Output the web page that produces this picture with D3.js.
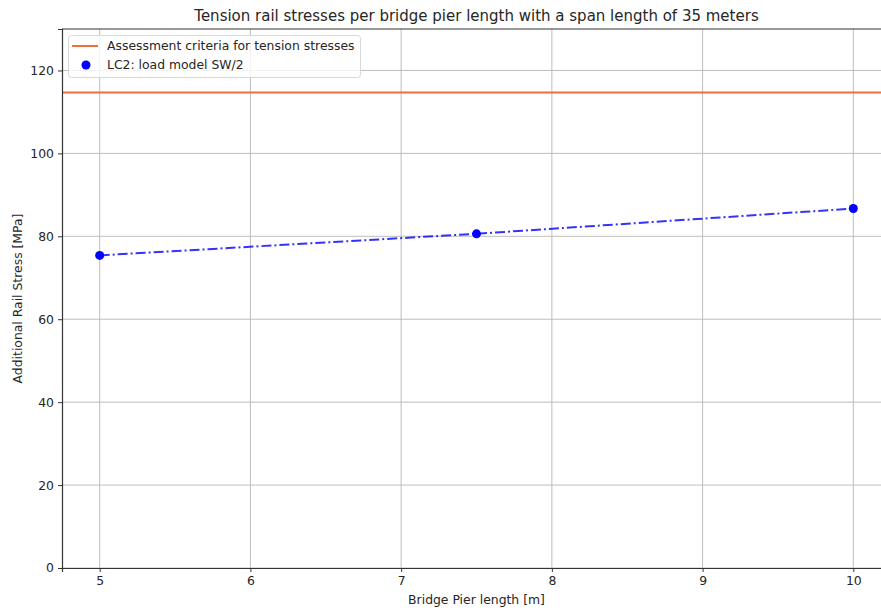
<!DOCTYPE html>
<html><head><meta charset="utf-8">
<script src="https://cdn.jsdelivr.net/npm/d3@7"></script>
<style>body{margin:0;background:#fff}svg{display:block;font-family:"DejaVu Sans",sans-serif}</style>
</head><body><svg id="c" width="881" height="610"></svg>
<script>
const pierLengths = [5, 7.5, 10];
const stressLC2 = [75.4, 80.6, 86.7];
const criteria = 114.7;
const xTicks = [5, 6, 7, 8, 9, 10];
const yTicks = [0, 20, 40, 60, 80, 100, 120];
const title = "Tension rail stresses per bridge pier length with a span length of 35 meters";
const xLabel = "Bridge Pier length [m]";
const yLabel = "Additional Rail Stress [MPa]";
const legendLabels = ["Assessment criteria for tension stresses", "LC2: load model SW/2"];

const svg = d3.select("#c");
const L = 62, T = 29, B = 568, R = 891;
const x = d3.scaleLinear().domain([4.75, 10.25]).range([L, R]);
const y = d3.scaleLinear().domain([0, 130]).range([B, T]);
const FS = 12.4;

// grid
svg.append("g").selectAll("line").data(xTicks).join("line")
  .attr("x1", d => x(d)).attr("x2", d => x(d)).attr("y1", T).attr("y2", B)
  .attr("stroke", "#bdbdbd").attr("stroke-width", 1);
svg.append("g").selectAll("line").data(yTicks).join("line")
  .attr("x1", L).attr("x2", R).attr("y1", d => y(d)).attr("y2", d => y(d))
  .attr("stroke", "#bdbdbd").attr("stroke-width", 1);

// criteria line
svg.append("line").attr("x1", L).attr("x2", R).attr("y1", y(criteria)).attr("y2", y(criteria))
  .attr("stroke", "#f36d3a").attr("stroke-width", 2);

// series line
const line = d3.line().x((d, i) => x(pierLengths[i])).y(d => y(d));
svg.append("path").datum(stressLC2).attr("d", line).attr("fill", "none")
  .attr("stroke", "#0000ff").attr("stroke-opacity", 0.8).attr("stroke-width", 2)
  .attr("stroke-dasharray", "10,3,2,3");
svg.append("g").selectAll("circle").data(stressLC2).join("circle")
  .attr("cx", (d, i) => x(pierLengths[i])).attr("cy", d => y(d)).attr("r", 4.5).attr("fill", "#0000ff");

// axes
const xa = svg.append("g").attr("transform", `translate(0,${B})`)
  .call(d3.axisBottom(x).tickValues(xTicks).tickFormat(d3.format("d")).tickSize(4).tickPadding(4));
const ya = svg.append("g").attr("transform", `translate(${L},0)`)
  .call(d3.axisLeft(y).tickValues(yTicks).tickFormat(d3.format("d")).tickSize(4).tickPadding(4));
[xa, ya].forEach(a => {
  a.selectAll("text").attr("font-size", FS).attr("fill", "#262626").attr("font-family", "DejaVu Sans");
  a.selectAll("line").attr("stroke", "#333");
  a.select(".domain").attr("stroke", "#333").attr("stroke-width", 1.2);
});
// top spine
svg.append("line").attr("x1", L).attr("x2", R).attr("y1", T).attr("y2", T).attr("stroke", "#333").attr("stroke-width", 1.2);

// title and labels
svg.append("text").attr("x", (L + R) / 2).attr("y", 21).attr("text-anchor", "middle")
  .attr("font-size", 15).attr("fill", "#262626").text(title);
svg.append("text").attr("x", (L + R) / 2).attr("y", 604).attr("text-anchor", "middle")
  .attr("font-size", FS).attr("fill", "#262626").text(xLabel);
svg.append("text").attr("transform", `translate(22,${(T + B) / 2}) rotate(-90)`).attr("text-anchor", "middle")
  .attr("font-size", FS).attr("fill", "#262626").text(yLabel);

// legend
const lg = svg.append("g");
lg.append("rect").attr("x", 68.5).attr("y", 35.5).attr("width", 292).attr("height", 42).attr("rx", 3)
  .attr("fill", "#fff").attr("fill-opacity", 0.8).attr("stroke", "#d8d8d8");
lg.append("line").attr("x1", 72).attr("x2", 98).attr("y1", 46).attr("y2", 46)
  .attr("stroke", "#f36d3a").attr("stroke-width", 2);
lg.append("circle").attr("cx", 86).attr("cy", 65).attr("r", 4.5).attr("fill", "#0000ff");
lg.selectAll("text").data(legendLabels).join("text")
  .attr("x", 107).attr("y", (d, i) => 50 + i * 19).attr("font-size", FS).attr("fill", "#262626").text(d => d);
</script></body></html>
